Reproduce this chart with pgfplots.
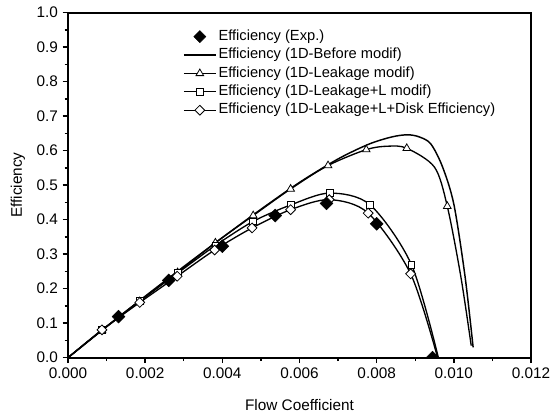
\documentclass[border=0pt]{standalone}
\usepackage{fontspec}
\setmainfont{Liberation Sans}
\usepackage{pgfplots}
\pgfplotsset{compat=1.18}

\begin{document}
\begin{tikzpicture}
\begin{axis}[
    name=ax,
    scale only axis,
    width=347.25pt, height=258.75pt,
    xmin=0, xmax=0.012, ymin=0, ymax=1,
    xtick={0,0.002,...,0.0121}, ytick={0,0.1,...,1.01},
    minor x tick num=1, minor y tick num=1,
    scaled x ticks=false,
    tick align=outside, xtick pos=left, ytick pos=left,
    major tick length=4pt, minor tick length=2.5pt,
    axis line style={line width=1.3pt},
    every tick/.style={black, line width=1.1pt},
    clip marker paths=true,
    tick label style={font=\fontsize{11.5}{13}\selectfont},
    label style={font=\fontsize{11.5}{13}\selectfont},
    xticklabel style={/pgf/number format/.cd, fixed, fixed zerofill, precision=3, assume math mode=true},
    yticklabel style={/pgf/number format/.cd, fixed, fixed zerofill, precision=1, assume math mode=true},
    xlabel={Flow Coefficient}, ylabel={Efficiency},
    xlabel style={at={(axis description cs:0.5,-0.136)}, anchor=center},
    ylabel style={at={(axis description cs:-0.108,0.5)}, anchor=center, rotate=0},
    legend style={at={(0.248,0.958)}, anchor=north west, draw=none, fill=none,
        font=\fontsize{11}{13}\selectfont, row sep=0pt, inner sep=0pt,
        nodes={inner sep=1.5pt, text height=8.2pt, text depth=2.6pt}, cells={anchor=west},
        /tikz/every even column/.append style={column sep=0pt}},
    legend image code/.code={\draw[mark repeat=2, mark phase=2, #1] plot coordinates {(0pt,0pt) (12pt,0pt) (24pt,0pt)};},
]
\addlegendimage{only marks, legend image code/.code={\draw[black, fill=black] plot[only marks, mark=square*, mark size=3.2pt, mark options={rotate=45}] coordinates {(12pt,0pt)};}}
\addlegendentry{Efficiency (Exp.)}
\addlegendimage{black, line width=1.1pt, no marks}
\addlegendentry{Efficiency (1D-Before modif)}
\addlegendimage{black, line width=0.8pt, mark=triangle*, mark size=3.3pt, mark options={fill=white, line width=0.6pt}}
\addlegendentry{Efficiency (1D-Leakage modif)}
\addlegendimage{black, line width=0.8pt, mark=square*, mark size=2.6pt, mark options={fill=white, line width=0.6pt}}
\addlegendentry{Efficiency (1D-Leakage+L modif)}
\addlegendimage{black, line width=0.8pt, mark=square*, mark size=2.6pt, mark options={rotate=45, fill=white, line width=0.6pt}}
\addlegendentry{Efficiency (1D-Leakage+L+Disk Efficiency)}

% 1D-Before modif
\addplot[black, line width=1.1pt, smooth, no marks, forget plot] coordinates {
    (0,0) (0.001,0.090) (0.002,0.178) (0.003,0.264) (0.004,0.348) (0.005,0.430)
    (0.006,0.508) (0.007,0.576) (0.0078,0.619) (0.0084,0.640) (0.0088,0.646)
    (0.0091,0.640) (0.0094,0.620) (0.0097,0.555) (0.0100,0.445) (0.01029,0.236)
    (0.0105,0.03)
};
% 1D-Leakage modif, curve
\addplot[black, line width=1pt, smooth, no marks, forget plot] coordinates {
    (0,0) (0.00088,0.079) (0.00186,0.163) (0.00284,0.247) (0.00382,0.333)
    (0.0048,0.412) (0.00577,0.489) (0.00674,0.557) (0.00773,0.603) (0.0083,0.613)
    (0.00878,0.607) (0.0095,0.552) (0.00983,0.439) (0.01018,0.236) (0.01045,0.035)
};
% 1D-Leakage+L modif, curve
\addplot[black, line width=1pt, smooth, no marks, forget plot] coordinates {
    (0,0) (0.00088,0.080) (0.00186,0.165) (0.00284,0.245) (0.00382,0.325)
    (0.0048,0.395) (0.00578,0.443) (0.00678,0.477) (0.00783,0.443) (0.0089,0.270)
    (0.0096,0.0)
};
% 1D-Leakage+L+Disk, curve
\addplot[black, line width=1pt, smooth, no marks, forget plot] coordinates {
    (0,0) (0.00088,0.0806) (0.00186,0.160) (0.00283,0.236) (0.0038,0.312)
    (0.00477,0.376) (0.00577,0.429) (0.00677,0.458) (0.00778,0.419) (0.00888,0.243)
    (0.00958,0.0)
};
% markers
\addplot[black, only marks, mark=triangle*, mark size=3.3pt, mark options={fill=white, line width=0.6pt}, forget plot] coordinates {
    (0.00088,0.079) (0.00186,0.163) (0.00284,0.247) (0.00382,0.333)
    (0.0048,0.412) (0.00577,0.489) (0.00674,0.557) (0.00773,0.603)
    (0.00878,0.607) (0.00983,0.439)
};
\addplot[black, only marks, mark=square*, mark size=2.6pt, mark options={fill=white, line width=0.6pt}, forget plot] coordinates {
    (0.00088,0.080) (0.00186,0.165) (0.00284,0.245) (0.00382,0.325)
    (0.0048,0.395) (0.00578,0.443) (0.00678,0.477) (0.00783,0.443) (0.0089,0.270)
};
\addplot[black, only marks, mark=square*, mark size=2.6pt, mark options={rotate=45, fill=white, line width=0.6pt}, forget plot] coordinates {
    (0.00088,0.0806) (0.00186,0.160) (0.00283,0.236) (0.0038,0.312)
    (0.00477,0.376) (0.00577,0.429) (0.00677,0.458) (0.00778,0.419) (0.00888,0.243)
};
% Exp.
\addplot[black, only marks, mark=square*, mark size=3.4pt, mark options={rotate=45, fill=black}, forget plot] coordinates {
    (0.00131,0.119) (0.00261,0.224) (0.0040,0.323) (0.00537,0.412)
    (0.0067,0.447) (0.0080,0.388) (0.00945,0.0)
};
\end{axis}
\pgfresetboundingbox
\path[use as bounding box] ([shift={(-51pt,-45pt)}]ax.south west) rectangle ([shift={(14.25pt,9.5pt)}]ax.north east);
\end{tikzpicture}
\end{document}
